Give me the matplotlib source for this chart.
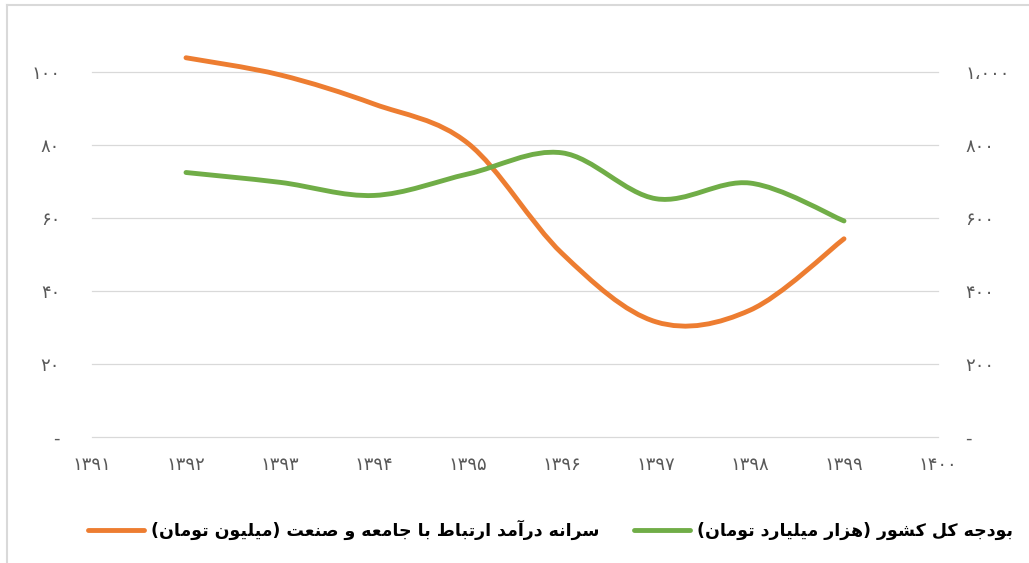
import numpy as np
import matplotlib
matplotlib.use("Agg")
import matplotlib.pyplot as plt
from matplotlib.path import Path
from matplotlib.patches import PathPatch
from matplotlib.lines import Line2D

years = [1392, 1393, 1394, 1395, 1396, 1397, 1398, 1399]
income = [104.0, 99.3, 91.3, 80.5, 50.3, 31.5, 34.7, 54.3]      # left axis
budget = [725, 698, 662, 721, 779, 653, 696, 592]               # right axis

x_ticks = list(range(1391, 1401))
left_ticks = [0, 20, 40, 60, 80, 100]
right_ticks = [0, 200, 400, 600, 800, 1000]
left_labels = ["-", "۲۰", "۴۰", "۶۰", "۸۰", "۱۰۰"]
right_labels = ["-", "۲۰۰", "۴۰۰", "۶۰۰", "۸۰۰", "۱،۰۰۰"]
x_labels = ["۱۳۹۱", "۱۳۹۲", "۱۳۹۳", "۱۳۹۴", "۱۳۹۵", "۱۳۹۶", "۱۳۹۷", "۱۳۹۸", "۱۳۹۹", "۱۴۰۰"]

income_label = "سرانه درآمد ارتباط با جامعه و صنعت (میلیون تومان)"
budget_label = "بودجه کل کشور (هزار میلیارد تومان)"

ORANGE = "#ED7D31"
GREEN = "#70AD47"

# isolated, final, initial, medial
FORMS = {
    "ا": ("\uFE8D", "\uFE8E", None, None),
    "آ": ("\uFE81", "\uFE82", None, None),
    "ب": ("\uFE8F", "\uFE90", "\uFE91", "\uFE92"),
    "ت": ("\uFE95", "\uFE96", "\uFE97", "\uFE98"),
    "ج": ("\uFE9D", "\uFE9E", "\uFE9F", "\uFEA0"),
    "د": ("\uFEA9", "\uFEAA", None, None),
    "ر": ("\uFEAD", "\uFEAE", None, None),
    "ز": ("\uFEAF", "\uFEB0", None, None),
    "س": ("\uFEB1", "\uFEB2", "\uFEB3", "\uFEB4"),
    "ش": ("\uFEB5", "\uFEB6", "\uFEB7", "\uFEB8"),
    "ص": ("\uFEB9", "\uFEBA", "\uFEBB", "\uFEBC"),
    "ط": ("\uFEC1", "\uFEC2", "\uFEC3", "\uFEC4"),
    "ع": ("\uFEC9", "\uFECA", "\uFECB", "\uFECC"),
    "ل": ("\uFEDD", "\uFEDE", "\uFEDF", "\uFEE0"),
    "م": ("\uFEE1", "\uFEE2", "\uFEE3", "\uFEE4"),
    "ن": ("\uFEE5", "\uFEE6", "\uFEE7", "\uFEE8"),
    "ه": ("\uFEE9", "\uFEEA", "\uFEEB", "\uFEEC"),
    "و": ("\uFEED", "\uFEEE", None, None),
    "ی": ("\uFBFC", "\uFBFD", "\uFBFE", "\uFBFF"),
    "ک": ("\uFB8E", "\uFB8F", "\uFB90", "\uFB91"),
}


def rtl(text):
    # matplotlib has no arabic shaping, so pick presentation forms by hand
    out = []
    for i, c in enumerate(text):
        if c not in FORMS:
            out.append(c)
            continue
        prev = text[i - 1] if i > 0 else ""
        nxt = text[i + 1] if i + 1 < len(text) else ""
        iso, fin, ini, med = FORMS[c]
        jp = prev in FORMS and FORMS[prev][2] is not None
        jn = nxt in FORMS and ini is not None
        if jp and jn:
            out.append(med)
        elif jp:
            out.append(fin)
        elif jn:
            out.append(ini)
        else:
            out.append(iso)
    s = "".join(reversed(out))
    return s.translate(str.maketrans("()", ")("))


def smooth_path(xs, ys):
    # excel style smoothed line: bezier with catmull-rom control points
    pts = np.column_stack([xs, ys]).astype(float)
    n = len(pts)
    verts = [pts[0]]
    codes = [Path.MOVETO]
    for i in range(n - 1):
        p0 = pts[max(i - 1, 0)]
        p1 = pts[i]
        p2 = pts[i + 1]
        p3 = pts[min(i + 2, n - 1)]
        verts += [p1 + (p2 - p0) / 6, p2 - (p3 - p1) / 6, p2]
        codes += [Path.CURVE4] * 3
    return Path(verts, codes)


fig = plt.figure(figsize=(10.29, 5.63), dpi=100)
ax = fig.add_axes([92 / 1029, (563 - 436.6) / 563, 846 / 1029, 400.7 / 563])
ax2 = ax.twinx()

ax.set_xlim(1391, 1400)
ax.set_ylim(0, 110)
ax2.set_ylim(0, 1100)

for y in left_ticks:
    ax.axhline(y, color="#D9D9D9", lw=0.9, zorder=0, clip_on=False)

ax.add_patch(PathPatch(smooth_path(years, income), fill=False, edgecolor=ORANGE,
                       lw=3.5, capstyle="round", joinstyle="round", zorder=3))
ax2.add_patch(PathPatch(smooth_path(years, budget), fill=False, edgecolor=GREEN,
                        lw=3.5, capstyle="round", joinstyle="round", zorder=3))

tick_kw = dict(colors="#595959", labelsize=13, length=0)
ax.set_xticks(x_ticks)
ax.set_xticklabels(x_labels)
ax.set_yticks(left_ticks)
ax.set_yticklabels(left_labels)
ax2.set_yticks(right_ticks)
ax2.set_yticklabels(right_labels)
ax.tick_params(axis="x", pad=14, **tick_kw)
ax.tick_params(axis="y", pad=23, **tick_kw)
ax2.tick_params(axis="y", pad=19.5, **tick_kw)

for a in (ax, ax2):
    for sp in a.spines.values():
        sp.set_visible(False)

handles = [Line2D([], [], color=ORANGE, lw=3.5, solid_capstyle="round"),
           Line2D([], [], color=GREEN, lw=3.5, solid_capstyle="round")]
fig.legend(handles, [rtl(income_label), rtl(budget_label)], loc="center",
           bbox_to_anchor=(0.535, 1 - 530 / 563), ncol=2, frameon=False,
           prop=dict(weight="bold", size=12.5), handlelength=3.2,
           handletextpad=0.4, columnspacing=2.0)

# chart area border (left and top only visible)
fig.add_artist(Line2D([7 / 1029, 7 / 1029], [0, 1 - 5 / 563], color="#D9D9D9", lw=1.5,
                      transform=fig.transFigure))
fig.add_artist(Line2D([7 / 1029, 1], [1 - 5 / 563, 1 - 5 / 563], color="#D9D9D9", lw=1.5,
                      transform=fig.transFigure))

fig.savefig("out.png", dpi=100)
